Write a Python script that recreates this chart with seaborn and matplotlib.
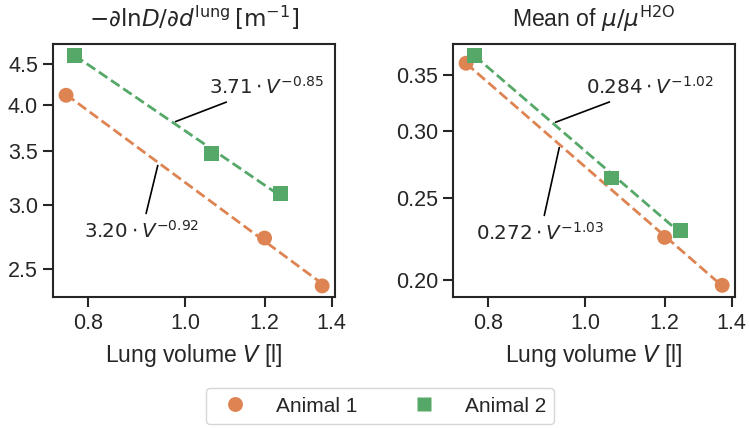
import matplotlib
matplotlib.use("Agg")
import matplotlib.pyplot as plt
import matplotlib.ticker as mticker
import seaborn as sns
import numpy as np
import pandas as pd

# lung volumes [l]
vol_a1 = [0.76, 1.20, 1.37]
vol_a2 = [0.775, 1.063, 1.245]

# left panel: -dlnD/dd
grad_a1 = [4.11, 2.73, 2.38]
grad_a2 = [4.61, 3.48, 3.10]

# right panel: mean mu/mu_H2O
mu_a1 = [0.361, 0.2245, 0.197]
mu_a2 = [0.369, 0.264, 0.2287]

# power-law fits a * V^b (as printed)
fit_grad = {"Animal 1": (3.20, -0.92), "Animal 2": (3.71, -0.85)}
fit_mu = {"Animal 1": (0.272, -1.03), "Animal 2": (0.284, -1.02)}

animals = ["Animal 1", "Animal 2"]
xticks = [0.8, 1.0, 1.2, 1.4]
yticks_grad = [2.5, 3.0, 3.5, 4.0, 4.5]
yticks_mu = [0.20, 0.25, 0.30, 0.35]

sns.set_theme(style="ticks")
plt.rcParams["font.family"] = ["Liberation Sans", "DejaVu Sans"]
plt.rcParams["mathtext.fontset"] = "dejavusans"

pal = sns.color_palette("deep")
colors = {"Animal 1": pal[1], "Animal 2": pal[2]}
markers = {"Animal 1": "o", "Animal 2": "s"}

df = pd.DataFrame({
    "animal": ["Animal 1"] * 3 + ["Animal 2"] * 3,
    "V": vol_a1 + vol_a2,
    "grad": grad_a1 + grad_a2,
    "mu": mu_a1 + mu_a2,
})

fig, axes = plt.subplots(1, 2, figsize=(7.5, 4.28), dpi=100)
fig.subplots_adjust(left=0.071, right=0.98, top=0.898, bottom=0.305, wspace=0.42)


def panel(ax, col, fits, yticks, fmt, title, notes):
    for a in animals:
        sub = df[df.animal == a]
        ca, cb = fits[a]
        vv = np.array([sub.V.min(), sub.V.max()])
        ax.plot(vv, ca * vv ** cb, ls="--", lw=2, color=colors[a], zorder=2)
    sns.scatterplot(data=df, x="V", y=col, hue="animal", style="animal",
                    palette=colors, markers=markers, s=115, edgecolor="none",
                    ax=ax, zorder=3, legend=(col == "grad"))
    ax.set_xscale("log")
    ax.set_yscale("log")
    ax.xaxis.set_major_locator(mticker.FixedLocator(xticks))
    ax.xaxis.set_major_formatter(mticker.FormatStrFormatter("%.1f"))
    ax.xaxis.set_minor_locator(mticker.NullLocator())
    ax.yaxis.set_major_locator(mticker.FixedLocator(yticks))
    ax.yaxis.set_major_formatter(mticker.FormatStrFormatter(fmt))
    ax.yaxis.set_minor_locator(mticker.NullLocator())
    ax.tick_params(labelsize=15.5, width=1.5, length=7, pad=4)
    for sp in ax.spines.values():
        sp.set_linewidth(1.5)
        sp.set_color("#262626")
    ax.set_xlabel(r"Lung volume $V$ [l]", fontsize=16.5, labelpad=6)
    ax.set_ylabel("")
    ax.set_title(title, fontsize=16.6, pad=12)
    for a, (xy, xyt) in notes.items():
        ca, cb = fits[a]
        if ca >= 1:
            txt = r"$%.2f\cdot V^{%.2f}$" % (ca, cb)
        else:
            txt = r"$%.3f\cdot V^{%.2f}$" % (ca, cb)
        ax.annotate(txt, xy=(xy, ca * xy ** cb), xytext=xyt, ha="center", va="center",
                    fontsize=14.3, arrowprops=dict(arrowstyle="-", color="black", lw=1.2))


panel(axes[0], "grad", fit_grad, yticks_grad, "%.1f",
      r"$-\partial\mathrm{ln} D/\partial d^{\mathrm{lung}}\,[\mathrm{m}^{-1}]$",
      {"Animal 2": (0.972, (1.204, 4.21)), "Animal 1": (0.94, (0.905, 2.79))})
panel(axes[1], "mu", fit_mu, yticks_mu, "%.2f",
      r"Mean of $\mu/\mu^{\mathrm{H2O}}$",
      {"Animal 2": (0.928, (1.16, 0.3386)), "Animal 1": (0.943, (0.902, 0.2276))})

h, l = axes[0].get_legend_handles_labels()
axes[0].get_legend().remove()
fig.legend(h, l, loc="lower center", ncol=2, fontsize=15, frameon=True,
           bbox_to_anchor=(0.507, 0.0095), borderaxespad=0,
           columnspacing=2.2, handletextpad=0.95, markerscale=1.0)

plt.savefig("out.png", dpi=100)
plt.close()
